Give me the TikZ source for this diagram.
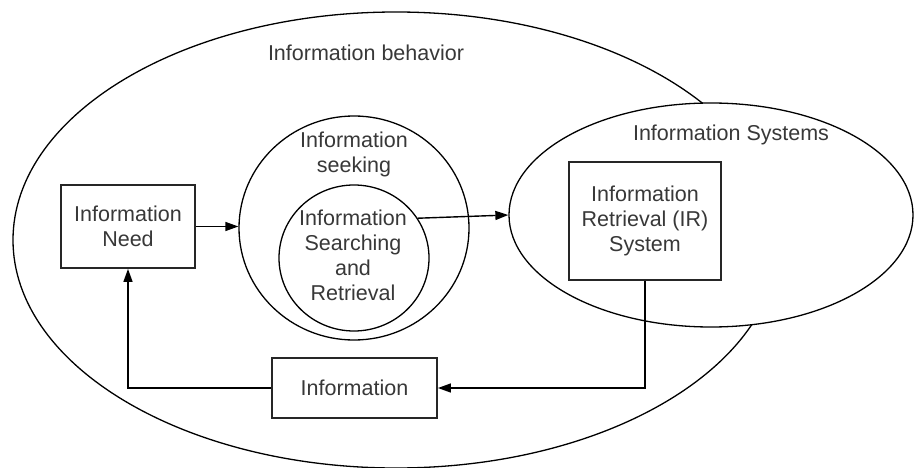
\documentclass[tikz,border=0pt]{standalone}
\usepackage{fontspec}
\setmainfont{Liberation Sans}
\usetikzlibrary{arrows.meta,shapes.geometric}
\begin{document}
\begin{tikzpicture}[x=1pt,y=-1pt,
  txt/.style={font=\fontsize{21.5}{25}\selectfont, text=black!78, align=center, inner sep=0pt},
  region/.style={draw=black, line width=1.3pt, ellipse, inner sep=0pt, fill=white},
  box/.style={draw=black!85, line width=1.8pt, rectangle, inner sep=0pt, fill=white,
              font=\fontsize{21.5}{25}\selectfont, text=black!78, align=center},
  link/.style={line width=1.4pt, draw=black},
  tip/.style={-{Triangle[length=13pt,width=9pt]}}
]
\useasboundingbox (0,0) rectangle (915,468);

% outer region and the overlapping systems region
\node[region, minimum width=766pt, minimum height=456pt] (behavior) at (396,240) {};
\node[region, minimum width=404pt, minimum height=224pt] (sys) at (711,215) {};

% nested seeking / searching regions
\node[region, minimum width=230pt, minimum height=224pt] (seek) at (354,228) {};
\node[region, minimum width=150pt, minimum height=146pt] (inner) at (354,258) {};

% region labels
\node[txt] (behaviorlbl) at (366,53) {Information behavior};
\node[txt] (syslbl) at (731,135) {Information Systems};
\node[txt] (seeklbl) at (354,154) {Information\\seeking};
\node[txt] (innerlbl) at (353,255) {Information\\Searching\\and\\Retrieval};

% boxes
\node[box, minimum width=134pt, minimum height=83pt] (need) at (128,226.5) {Information\\Need};
\node[box, minimum width=152pt, minimum height=118pt] (ir) at (645,221) {Information\\Retrieval (IR)\\System};
\node[box, minimum width=165pt, minimum height=60pt] (info) at (354.5,388) {Information};

% connectors
\draw[link,tip] (need.east) -- (need.east -| seek.west);
\draw[link,tip] (inner.32) -- (sys.west);
\draw[link,tip] (ir.south) |- (info.east);
\draw[link,tip] (info.west) -| (need.south);
\end{tikzpicture}
\end{document}
